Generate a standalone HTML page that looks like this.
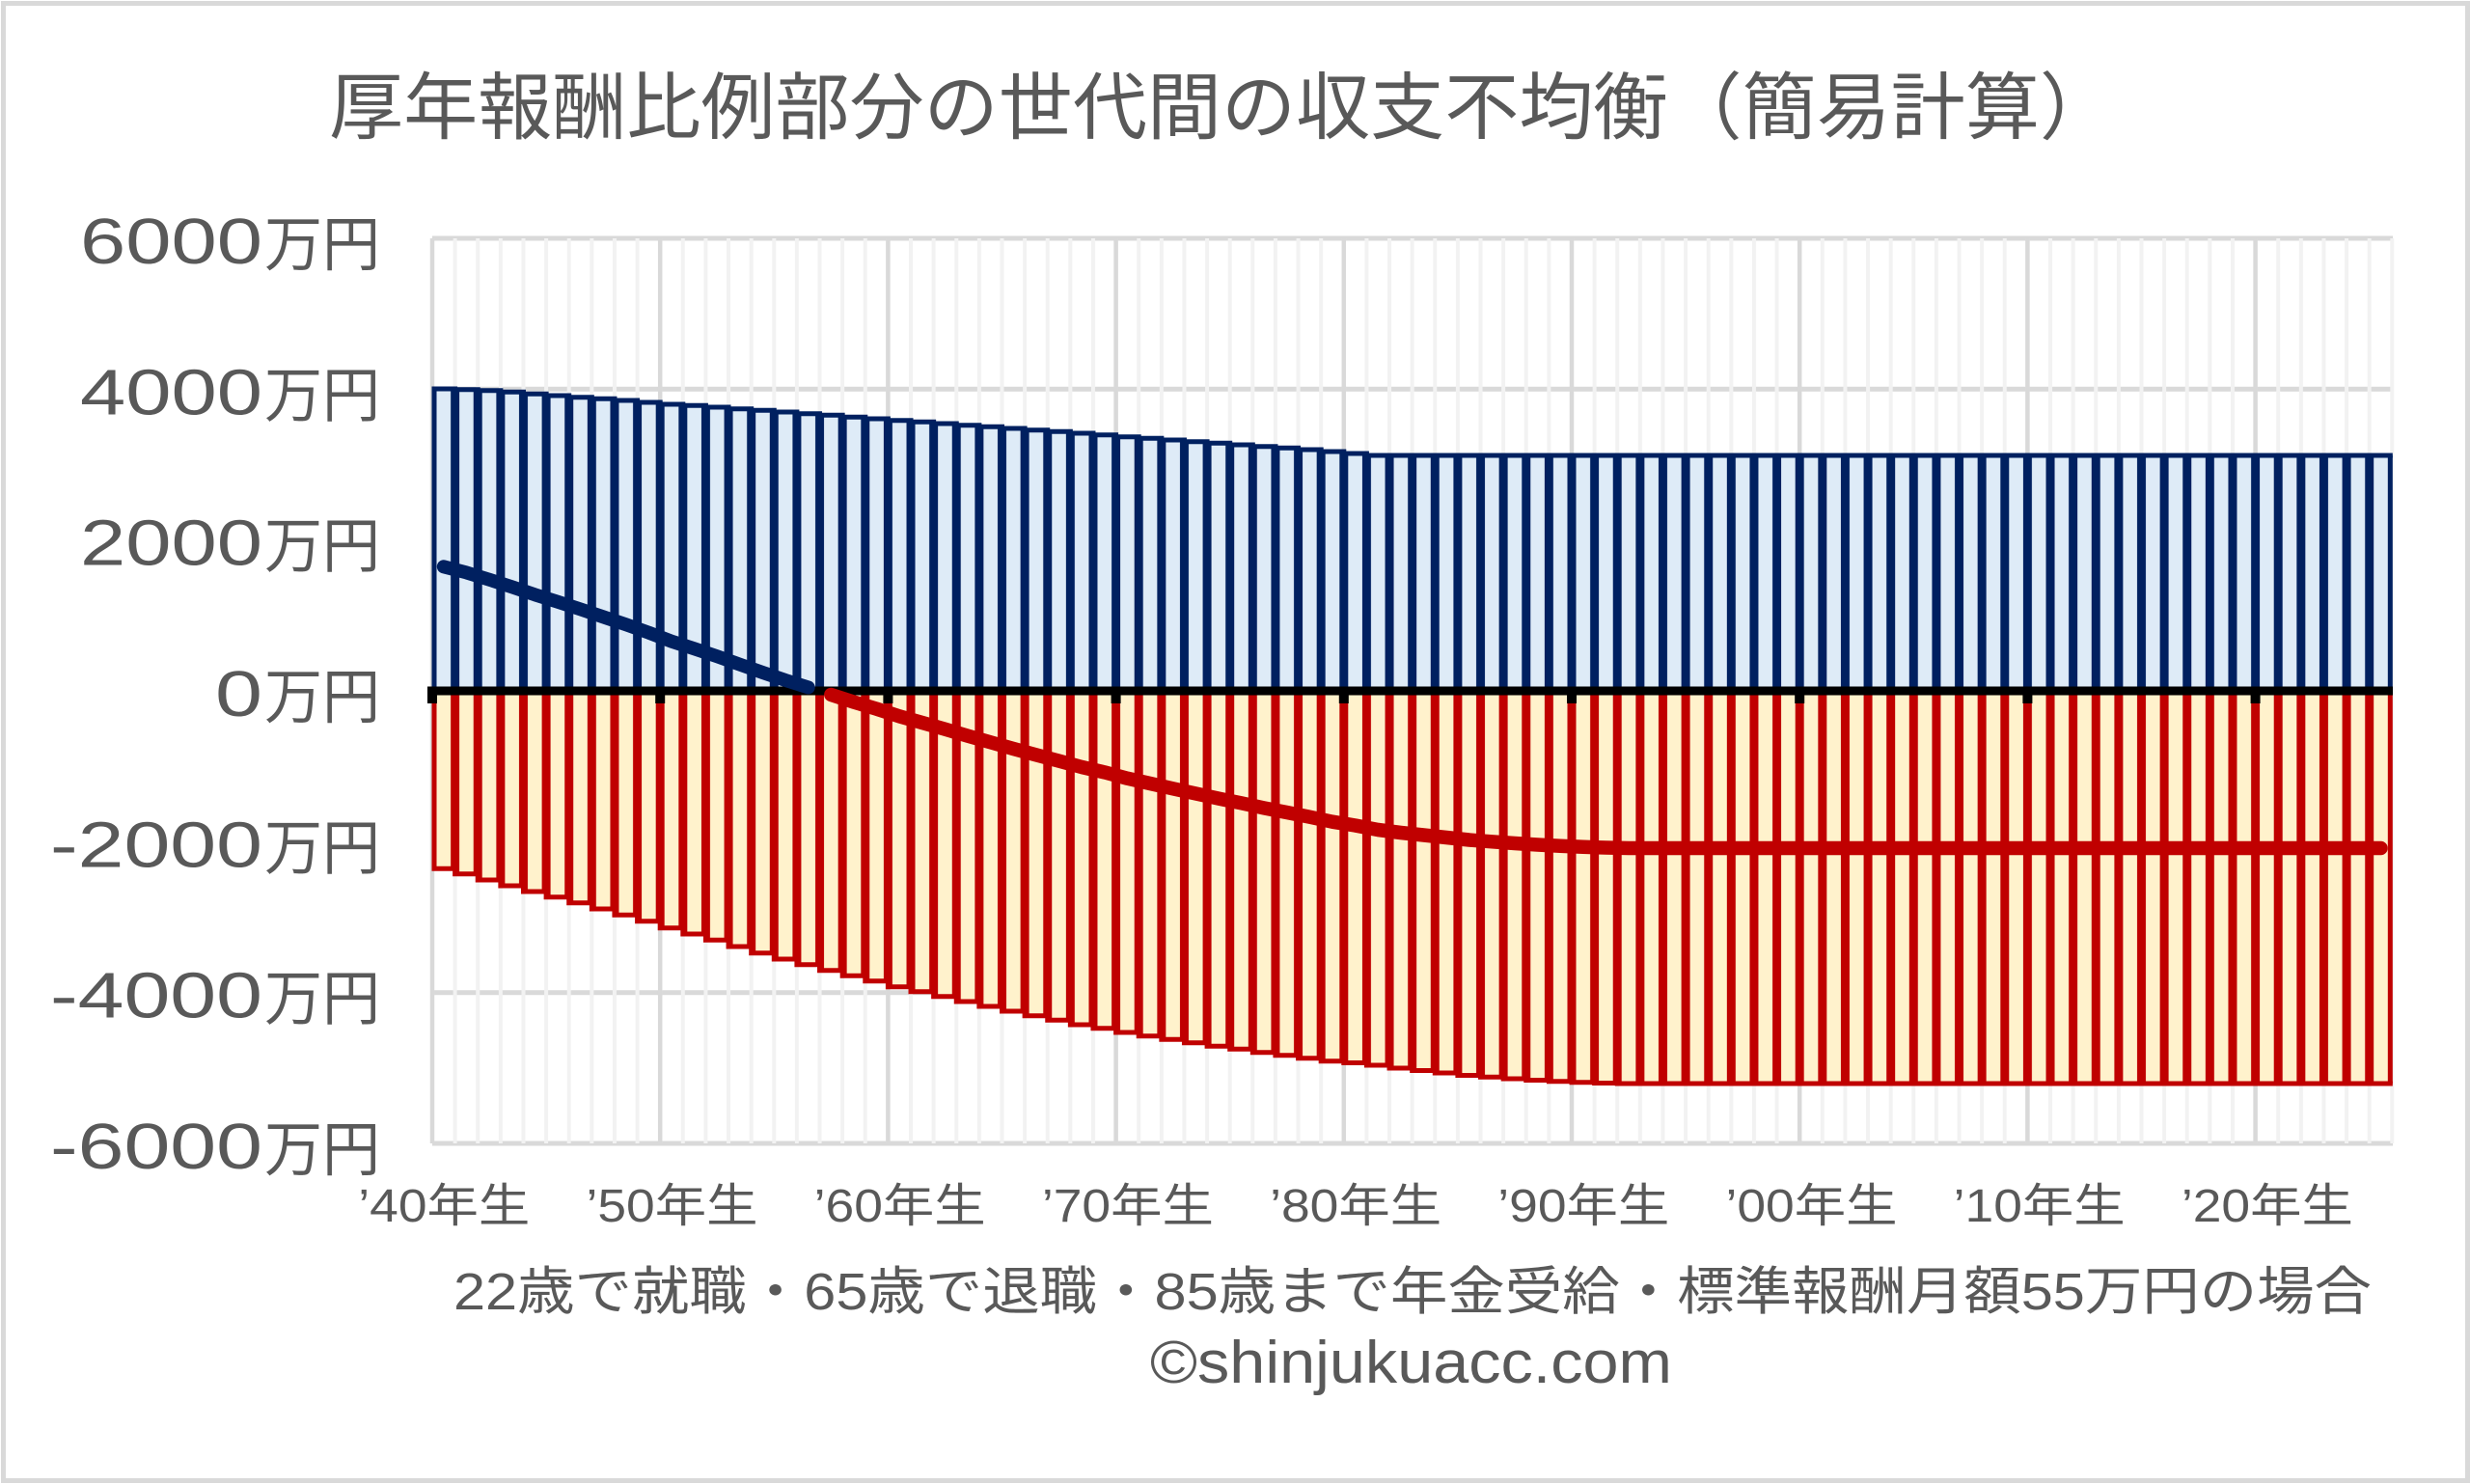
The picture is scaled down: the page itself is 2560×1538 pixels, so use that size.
<!DOCTYPE html>
<html><head><meta charset="utf-8"><style>
html,body{margin:0;padding:0;background:#fff;}
svg{display:block;}
text{font-family:"Liberation Sans","Noto Sans CJK JP",sans-serif;fill:#595959;}
</style></head><body>
<svg width="2560" height="1538" viewBox="0 0 2560 1538" xmlns="http://www.w3.org/2000/svg">
<defs>
<pattern id="pb" patternUnits="userSpaceOnUse" x="448" y="0" width="23.62" height="20">
<rect x="0" y="0" width="23.62" height="20" fill="#DEEBF7"/>
<rect x="0" y="0" width="4.5" height="20" fill="#002060"/>
<rect x="19.12" y="0" width="4.5" height="20" fill="#002060"/>
</pattern>
<pattern id="pr" patternUnits="userSpaceOnUse" x="448" y="0" width="23.62" height="20">
<rect x="0" y="0" width="23.62" height="20" fill="#FFF2CC"/>
<rect x="0" y="0" width="4.5" height="20" fill="#C00000"/>
<rect x="19.12" y="0" width="4.5" height="20" fill="#C00000"/>
</pattern>
<pattern id="mg" patternUnits="userSpaceOnUse" x="446" y="0" width="23.62" height="20">
<rect x="0" y="0" width="4" height="20" fill="#f2f2f2"/>
</pattern>
</defs>

<rect x="3.5" y="3.5" width="2554" height="1531" fill="#fff" stroke="#d9d9d9" stroke-width="5"/>

<text x="341" y="138" font-size="76" textLength="1850" lengthAdjust="spacingAndGlyphs">厚年報酬比例部分の世代間の収支不均衡（簡易計算）</text>

<path d="M448,247H2480M448,403.3H2480M448,559.7H2480M448,872.3H2480M448,1028.7H2480M448,1185H2480" stroke="#d9d9d9" stroke-width="5" fill="none"/>
<rect x="446" y="247" width="2035.32" height="938" fill="url(#mg)"/>
<path stroke="#d9d9d9" stroke-width="4.5" fill="none" d="M448,247V1185M684.2,247V1185M920.4,247V1185M1156.6,247V1185M1392.8,247V1185M1629,247V1185M1865.2,247V1185M2101.4,247V1185M2337.6,247V1185"/>

<path fill="url(#pb)" d="M447.5,716V403H471.62V403.7H495.24V404.7H518.86V406.3H542.48V408.3H566.1V410H589.72V411.7H613.34V413.3H636.96V415H660.58V417H684.2V419H707.82V420.3H731.44V422H755.06V423.7H778.68V425.3H802.3V427H825.92V428.7H849.54V430.3H873.16V432.3H896.78V434H920.4V435.7H944.02V437.3H967.64V439H991.26V440.7H1014.88V442.3H1038.5V444H1062.12V445.7H1085.74V447.3H1109.36V449H1132.98V450.7H1156.6V452.7H1180.22V454.3H1203.84V456H1227.46V457.7H1251.08V459.3H1274.7V461H1298.32V462.7H1321.94V464.3H1345.56V466H1369.18V468H1392.8V470H1416.42V472H2479.82V716Z"/>
<path fill="none" stroke="#002060" stroke-width="5" d="M447.5,403H471.62V403.7H495.24V404.7H518.86V406.3H542.48V408.3H566.1V410H589.72V411.7H613.34V413.3H636.96V415H660.58V417H684.2V419H707.82V420.3H731.44V422H755.06V423.7H778.68V425.3H802.3V427H825.92V428.7H849.54V430.3H873.16V432.3H896.78V434H920.4V435.7H944.02V437.3H967.64V439H991.26V440.7H1014.88V442.3H1038.5V444H1062.12V445.7H1085.74V447.3H1109.36V449H1132.98V450.7H1156.6V452.7H1180.22V454.3H1203.84V456H1227.46V457.7H1251.08V459.3H1274.7V461H1298.32V462.7H1321.94V464.3H1345.56V466H1369.18V468H1392.8V470H1416.42V472H2479.82"/>

<path fill="url(#pr)" d="M447.5,716V900.3H471.62V905.7H495.24V912H518.86V918H542.48V924H566.1V929.7H589.72V935.7H613.34V942H636.96V948.3H660.58V954.7H684.2V961.7H707.82V968H731.44V974.3H755.06V981H778.68V987.7H802.3V994H825.92V999.7H849.54V1005.7H873.16V1011.3H896.78V1016.7H920.4V1022.7H944.02V1027.7H967.64V1032.7H991.26V1038H1014.88V1043H1038.5V1048H1062.12V1052.7H1085.74V1057.3H1109.36V1062H1132.98V1065.7H1156.6V1070H1180.22V1073.7H1203.84V1077.3H1227.46V1080.7H1251.08V1084.3H1274.7V1087.3H1298.32V1090.7H1321.94V1093.7H1345.56V1096.7H1369.18V1099.7H1392.8V1101.5H1416.42V1104H1440.04V1107H1463.66V1109.5H1487.28V1112H1510.9V1114.5H1534.52V1116.3H1558.14V1118H1581.76V1119.5H1605.38V1120.8H1629V1121.8H1652.62V1122.5H1676.24V1123H2479.82V716Z"/>
<path fill="none" stroke="#C00000" stroke-width="5" d="M447.5,900.3H471.62V905.7H495.24V912H518.86V918H542.48V924H566.1V929.7H589.72V935.7H613.34V942H636.96V948.3H660.58V954.7H684.2V961.7H707.82V968H731.44V974.3H755.06V981H778.68V987.7H802.3V994H825.92V999.7H849.54V1005.7H873.16V1011.3H896.78V1016.7H920.4V1022.7H944.02V1027.7H967.64V1032.7H991.26V1038H1014.88V1043H1038.5V1048H1062.12V1052.7H1085.74V1057.3H1109.36V1062H1132.98V1065.7H1156.6V1070H1180.22V1073.7H1203.84V1077.3H1227.46V1080.7H1251.08V1084.3H1274.7V1087.3H1298.32V1090.7H1321.94V1093.7H1345.56V1096.7H1369.18V1099.7H1392.8V1101.5H1416.42V1104H1440.04V1107H1463.66V1109.5H1487.28V1112H1510.9V1114.5H1534.52V1116.3H1558.14V1118H1581.76V1119.5H1605.38V1120.8H1629V1121.8H1652.62V1122.5H1676.24V1123H2479.82"/>

<rect x="443" y="711.5" width="2037" height="9" fill="#000"/>
<path fill="none" stroke="#000" stroke-width="10" d="M448,716V729M684.2,716V729M920.4,716V729M1156.6,716V729M1392.8,716V729M1629,716V729M1865.2,716V729M2101.4,716V729M2337.6,716V729"/>

<path fill="none" stroke="#002060" stroke-width="14" stroke-linecap="round" stroke-linejoin="round" d="M459.81,587.3L483.43,593.4L507.05,600.7L530.67,608.3L554.29,616.3L577.91,623.7L601.53,631.4L625.15,639.3L648.77,647.3L672.39,655.7L696.01,664.7L719.63,672.3L743.25,680.3L766.87,688.7L790.49,697L814.11,705L837.73,712.4"/>
<path fill="none" stroke="#C00000" stroke-width="14.5" stroke-linecap="round" stroke-linejoin="round" d="M861.35,720L884.97,727.6L908.59,734.7L932.21,742.4L955.83,749L979.45,755.7L1003.07,762.7L1026.69,769.3L1050.31,776L1073.93,782.4L1097.55,788.6L1121.17,795L1144.79,800.4L1168.41,806.7L1192.03,812L1215.65,817.3L1239.27,822.4L1262.89,827.6L1286.51,832.3L1310.13,837.4L1333.75,842L1357.37,846.7L1380.99,851.7L1404.61,855.5L1428.23,860L1451.85,863L1475.47,865.5L1499.09,868L1522.71,870.5L1546.33,872.3L1569.95,874L1593.57,875.5L1617.19,876.8L1640.81,877.8L1664.43,878.5L1688.05,879L2467.51,879"/>

<g font-size="67">
<text x="83" y="273" textLength="189" lengthAdjust="spacingAndGlyphs">6000</text>
<text x="83" y="429.3" textLength="189" lengthAdjust="spacingAndGlyphs">4000</text>
<text x="83" y="585.7" textLength="189" lengthAdjust="spacingAndGlyphs">2000</text>
<text x="223" y="742" textLength="49" lengthAdjust="spacingAndGlyphs">0</text>
<text x="52" y="898.3" textLength="220" lengthAdjust="spacingAndGlyphs">-2000</text>
<text x="52" y="1054.7" textLength="220" lengthAdjust="spacingAndGlyphs">-4000</text>
<text x="52" y="1211" textLength="220" lengthAdjust="spacingAndGlyphs">-6000</text>
</g>
<g font-size="62">
<text x="274" y="275" textLength="120" lengthAdjust="spacingAndGlyphs">万円</text>
<text x="274" y="431.3" textLength="120" lengthAdjust="spacingAndGlyphs">万円</text>
<text x="274" y="587.7" textLength="120" lengthAdjust="spacingAndGlyphs">万円</text>
<text x="274" y="744" textLength="120" lengthAdjust="spacingAndGlyphs">万円</text>
<text x="274" y="900.3" textLength="120" lengthAdjust="spacingAndGlyphs">万円</text>
<text x="274" y="1056.7" textLength="120" lengthAdjust="spacingAndGlyphs">万円</text>
<text x="274" y="1213" textLength="120" lengthAdjust="spacingAndGlyphs">万円</text>
</g>

<g font-size="48" text-anchor="middle">
<text x="460.3" y="1266" textLength="178" lengthAdjust="spacingAndGlyphs">’40年生</text>
<text x="696.5" y="1266" textLength="178" lengthAdjust="spacingAndGlyphs">’50年生</text>
<text x="932.7" y="1266" textLength="178" lengthAdjust="spacingAndGlyphs">’60年生</text>
<text x="1168.9" y="1266" textLength="178" lengthAdjust="spacingAndGlyphs">’70年生</text>
<text x="1405.1" y="1266" textLength="178" lengthAdjust="spacingAndGlyphs">’80年生</text>
<text x="1641.3" y="1266" textLength="178" lengthAdjust="spacingAndGlyphs">’90年生</text>
<text x="1877.5" y="1266" textLength="178" lengthAdjust="spacingAndGlyphs">’00年生</text>
<text x="2113.7" y="1266" textLength="178" lengthAdjust="spacingAndGlyphs">’10年生</text>
<text x="2349.9" y="1266" textLength="178" lengthAdjust="spacingAndGlyphs">’20年生</text>
</g>

<text x="470" y="1357" font-size="54" textLength="1988" lengthAdjust="spacingAndGlyphs">22歳で就職・65歳で退職・85歳まで年金受給・標準報酬月額55万円の場合</text>
<text x="1192" y="1433" font-size="62" textLength="541" lengthAdjust="spacingAndGlyphs">©shinjukuacc.com</text>
</svg>
</body></html>
